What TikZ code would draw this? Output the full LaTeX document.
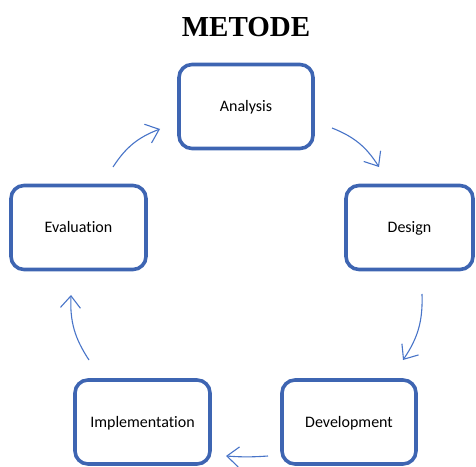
\documentclass[tikz,border=0pt]{standalone}
\usepackage{fontspec}
\setmainfont{Carlito}[Ligatures=NoCommon]
\newfontfamily\titlefont{Liberation Serif}
\usepackage{tikz}
\usetikzlibrary{
    arrows.meta,
    positioning,
    calc
}

\begin{document}
\begin{tikzpicture}[x=1pt, y=1pt,
        phase/.style={draw=phaseblue, line width=3.6pt, rounded corners=13pt,
            minimum width=134pt, minimum height=84pt, text height=13.5pt, text depth=3pt,
            font=\fontsize{16}{18}\selectfont},
        flow/.style={draw=arrowblue, line width=1.1pt,
            -{Straight Barb[length=12pt, width=20pt, line width=1.1pt]}}]
                        \definecolor{phaseblue}{RGB}{62,101,178}
                        \definecolor{arrowblue}{RGB}{72,116,200}
                        \useasboundingbox (0, 0) rectangle (476, 466);
                        \node[anchor=base, font=\titlefont\bfseries\fontsize{29}{32}\selectfont] (title) at (246, 429) {METODE};
                        \node[phase] (analysis) at (246, 359.5) {Analysis};
                        \node[phase, minimum width=127pt] (design) at (409.5, 238.5) {Design};
                        \node[phase] (development) at (349, 44) {Development};
                        \node[phase, minimum width=135pt] (implementation) at (142.5, 44) {Implementation};
                        \node[phase, minimum width=135pt] (evaluation) at (78.5, 238.5) {Evaluation};
                        \coordinate (a1) at (332, 338);
                        \coordinate (d1) at (379, 299);
                        \coordinate (d2) at (422, 172);
                        \coordinate (v2) at (403, 106);
                        \coordinate (v3) at (268, 10);
                        \coordinate (i3) at (226, 10);
                        \coordinate (i4) at (89, 106);
                        \coordinate (e4) at (71, 171);
                        \coordinate (e5) at (113, 299);
                        \coordinate (a5) at (160, 337);
                        \draw[flow] (a1) to[bend left=18] (d1);
                        \draw[flow] (d2) to[bend left=18] (v2);
                        \draw[flow] (v3) to[bend left=4] (i3);
                        \draw[flow] (i4) to[bend left=18] (e4);
                        \draw[flow] (e5) to[bend left=18] (a5);
                    \end{tikzpicture}
\end{document}
